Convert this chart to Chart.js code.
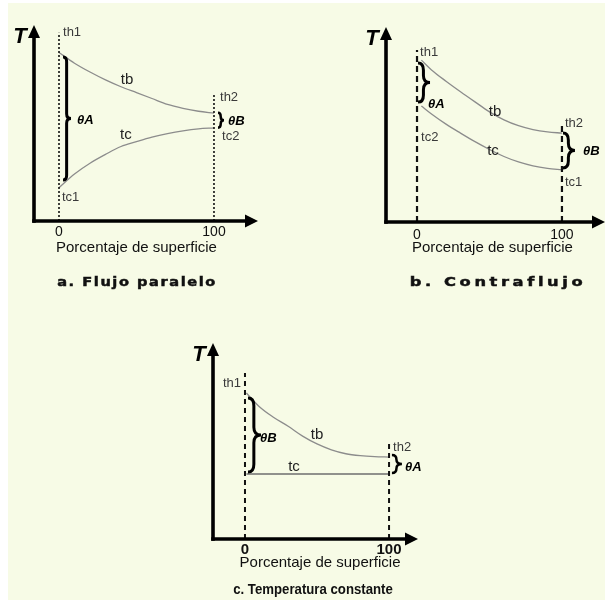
<!DOCTYPE html>
<html><head><meta charset="utf-8">
<script src="https://cdn.jsdelivr.net/npm/chart.js@4"></script>
<style>
html,body{margin:0;padding:0;background:#fff;}
#wrap{position:relative;width:605px;height:600px;overflow:hidden;background:#fff;}
#bg{position:absolute;left:8px;top:3px;right:0;bottom:0;background:#f7fbe6;}
canvas{position:absolute;}
.cap{position:absolute;white-space:nowrap;color:#111;line-height:16px;height:16px;}
</style></head>
<body>
<div id="wrap">
<div id="bg"></div>
<canvas id="ca" width="300" height="300" style="left:0;top:0"></canvas>
<canvas id="cb" width="305" height="300" style="left:300px;top:0"></canvas>
<canvas id="cc" width="300" height="270" style="left:150px;top:330px"></canvas>
<div class="cap" id="capA" style="left:137px;top:274px;font:bold 13px 'DejaVu Sans';letter-spacing:1.4px;-webkit-text-stroke:0.5px #111;transform:translateX(-50%) scaleX(1.12)"></div>
<div class="cap" id="capB" style="left:498px;top:274px;font:bold 13px 'DejaVu Sans';letter-spacing:2.9px;-webkit-text-stroke:0.5px #111;transform:translateX(-50%) scaleX(1.25)"></div>
<div class="cap" id="capC" style="left:313px;top:580px;font:bold 15px 'Liberation Sans';transform:translateX(-50%) scaleX(0.88)"></div>
</div>
<script>
// ---- data (percentage of surface vs temperature, arbitrary units 0..100) ----
const tickValues = [0, 100];
const tickLabels = ['0', '100'];
const axisTitle = 'Porcentaje de superficie';
const yAxisLabel = 'T';
const captions = ['a. Flujo paralelo', 'b. Contraflujo', 'c. Temperatura constante'];

// a. parallel flow
const pctParallel = [0, 10, 20, 30, 40, 50, 60, 70, 80, 90, 100];
const tbParallel  = [86, 80.5, 76, 72, 68.5, 65.5, 62.5, 59.5, 57.5, 56, 55];
const tcParallel  = [17, 24, 29.5, 34, 38, 40.5, 42.8, 44.6, 46, 47, 47.5];
const guideTopsParallel = [96, 64.3];

// b. counterflow
const pctCounter = [3, 10, 20, 30, 40, 50, 60, 70, 80, 90, 100];
const tbCounter  = [83, 78, 72.2, 66.8, 61.6, 56.5, 52.4, 49.4, 47.4, 46.2, 45.6];
const tcCounter  = [59.5, 55.4, 50.2, 45.6, 41.2, 37.2, 33.6, 30.8, 28.8, 27.5, 26.7];
const guideTopsCounter = [88.2, 51.3];

// c. constant temperature
const pctConst = [1, 10, 20, 30, 40, 50, 60, 70, 80, 90, 100];
const tbConst  = [74.5, 67.5, 62, 57.5, 52.5, 48.5, 45.5, 43.5, 42.5, 42, 41.8];
const pctConstTc = [1, 100];
const tcConst  = [33.2, 33.2];
const guideTopsConst = [84.7, 49.5];

document.getElementById('capA').textContent = captions[0];
document.getElementById('capB').textContent = captions[1];
document.getElementById('capC').textContent = captions[2];

const pts = (xs, ys) => xs.map((v, i) => ({x: v, y: ys[i]}));

function brace(ctx, x0, yTop, yBot, w, lw) {
  const xm = x0 + w * 0.45, xt = x0 + w, ym = (yTop + yBot) / 2;
  const r = Math.min(w * 0.6, (yBot - yTop) / 4);
  ctx.lineWidth = lw;
  ctx.beginPath();
  ctx.moveTo(x0, yTop);
  ctx.quadraticCurveTo(xm, yTop, xm, yTop + r);
  ctx.lineTo(xm, ym - r);
  ctx.quadraticCurveTo(xm, ym, xt, ym);
  ctx.quadraticCurveTo(xm, ym, xm, ym + r);
  ctx.lineTo(xm, yBot - r);
  ctx.quadraticCurveTo(xm, yBot, x0, yBot);
  ctx.stroke();
}

const diagramPlugin = {
  id: 'diagram',
  afterDatasetsDraw(chart, args, o) {
    const {ctx, chartArea: a} = chart;
    const xs = chart.scales.x, ys = chart.scales.y;
    ctx.save();
    ctx.strokeStyle = '#000'; ctx.fillStyle = '#000';
    // axes with arrows
    ctx.lineWidth = 3.6;
    ctx.beginPath(); ctx.moveTo(a.left, a.bottom + 1.8); ctx.lineTo(a.left, a.top + 10); ctx.stroke();
    ctx.beginPath(); ctx.moveTo(a.left - 1.8, a.bottom); ctx.lineTo(a.right - 10, a.bottom); ctx.stroke();
    ctx.beginPath(); ctx.moveTo(a.left, a.top); ctx.lineTo(a.left - 6, a.top + 13); ctx.lineTo(a.left + 6, a.top + 13); ctx.closePath(); ctx.fill();
    ctx.beginPath(); ctx.moveTo(a.right, a.bottom); ctx.lineTo(a.right - 13, a.bottom - 6.5); ctx.lineTo(a.right - 13, a.bottom + 6.5); ctx.closePath(); ctx.fill();
    // T label
    ctx.font = 'italic bold 22px "Liberation Sans"';
    ctx.textAlign = 'center'; ctx.textBaseline = 'alphabetic';
    ctx.fillStyle = '#000';
    ctx.fillText(yAxisLabel, a.left - 14, a.top + 18);
    // tick labels
    ctx.font = o.tickFont; ctx.fillStyle = '#111';
    ctx.textBaseline = 'middle';
    tickValues.forEach((v, i) => ctx.fillText(tickLabels[i], xs.getPixelForValue(v), a.bottom + o.tickGap));
    // axis title
    ctx.font = '15px "Liberation Sans"';
    ctx.fillText(axisTitle, xs.getPixelForValue(50) + o.titleShift, a.bottom + o.titleGap);
    // braces
    ctx.strokeStyle = '#000';
    o.braces.forEach(b => brace(ctx, xs.getPixelForValue(b.x), ys.getPixelForValue(b.y1), ys.getPixelForValue(b.y2), b.w, b.lw));
    // labels
    o.labels.forEach(l => {
      if (l.k === 'curve') { ctx.font = '15px "Liberation Sans"'; ctx.fillStyle = '#222'; ctx.textAlign = 'center'; }
      else if (l.k === 'theta') { ctx.font = 'italic bold 13px "Liberation Sans"'; ctx.fillStyle = '#000'; ctx.textAlign = 'left'; }
      else { ctx.font = o.smallFont; ctx.fillStyle = '#3a3a3a'; ctx.textAlign = 'left'; }
      ctx.fillText(l.t, xs.getPixelForValue(l.x), ys.getPixelForValue(l.y));
    });
    ctx.restore();
  }
};

function makeChart(id, cfg) {
  const curve = (xs, ys, color, w) => ({data: pts(xs, ys), borderColor: color, borderWidth: w, pointRadius: 0, cubicInterpolationMode: 'monotone', fill: false});
  const guide = (xv, top) => ({data: [{x: xv, y: 0}, {x: xv, y: top}], borderColor: '#111', borderWidth: cfg.dashW, borderDash: cfg.dash, pointRadius: 0, fill: false});
  return new Chart(document.getElementById(id), {
    type: 'line',
    data: {datasets: [
      guide(0, cfg.tops[0]), guide(100, cfg.tops[1]),
      ...cfg.curves.map(c => curve(c[0], c[1], c[2], c[3]))
    ]},
    options: {
      responsive: false, animation: false, events: [], devicePixelRatio: 1,
      layout: {padding: cfg.pad},
      scales: {
        x: {type: 'linear', min: cfg.xmin, max: cfg.xmax, display: false},
        y: {type: 'linear', min: 0, max: 100, display: false}
      },
      plugins: {legend: {display: false}, tooltip: {enabled: false}, diagram: cfg.diag}
    },
    plugins: [diagramPlugin]
  });
}

makeChart('ca', {
  pad: {left: 34, top: 25, right: 42, bottom: 79},
  xmin: -16.13, xmax: 128.4,
  dash: [2, 2], dashW: 1.6, tops: guideTopsParallel,
  curves: [[pctParallel, tbParallel, '#8c8c8c', 1.3], [pctParallel, tcParallel, '#8c8c8c', 1.3]],
  diag: {
    tickFont: '14px "Liberation Sans"', tickGap: 11, titleGap: 27, titleShift: 0,
    smallFont: '13px "Liberation Sans"',
    braces: [{x: 2.6, y1: 83.7, y2: 20.9, w: 8, lw: 3}, {x: 102.6, y1: 55.2, y2: 47.6, w: 6, lw: 2.5}],
    labels: [
      {t: 'th1', x: 2.6, y: 96.4}, {t: 'tb', x: 43.9, y: 71.9, k: 'curve'}, {t: 'tc', x: 43.2, y: 43.9, k: 'curve'},
      {t: 'tc1', x: 1.9, y: 12.2}, {t: 'th2', x: 103.9, y: 62.8}, {t: 'tc2', x: 105.2, y: 42.9},
      {t: 'θA', x: 11.6, y: 51.5, k: 'theta'}, {t: 'θB', x: 109, y: 51, k: 'theta'}
    ]
  }
});

makeChart('cb', {
  pad: {left: 86, top: 27, right: 0, bottom: 78},
  xmin: -21.4, xmax: 129.7,
  dash: [6, 4], dashW: 2.2, tops: guideTopsCounter,
  curves: [[pctCounter, tbCounter, '#8c8c8c', 1.3], [pctCounter, tcCounter, '#8c8c8c', 1.3]],
  diag: {
    tickFont: '14px "Liberation Sans"', tickGap: 13, titleGap: 26, titleShift: 3,
    smallFont: '13px "Liberation Sans"',
    braces: [{x: 0.7, y1: 81.5, y2: 61.5, w: 12, lw: 3}, {x: 100.7, y1: 45.6, y2: 27.7, w: 12, lw: 3}],
    labels: [
      {t: 'th1', x: 2.1, y: 87.2}, {t: 'tb', x: 53.8, y: 56.4, k: 'curve'}, {t: 'tc', x: 52.4, y: 36.4, k: 'curve'},
      {t: 'tc2', x: 2.8, y: 43.6}, {t: 'θA', x: 7.6, y: 60.5, k: 'theta'},
      {t: 'th2', x: 102.1, y: 50.8}, {t: 'tc1', x: 102.1, y: 20.5}, {t: 'θB', x: 114.5, y: 36.4, k: 'theta'}
    ]
  }
});

makeChart('cc', {
  pad: {left: 63, top: 13, right: 32, bottom: 61},
  xmin: -22.2, xmax: 120.1,
  dash: [5, 4], dashW: 2, tops: guideTopsConst,
  curves: [[pctConst, tbConst, '#8c8c8c', 1.3], [pctConstTc, tcConst, '#6e6e6e', 1.6]],
  diag: {
    tickFont: 'bold 15px "Liberation Sans"', tickGap: 11, titleGap: 24, titleShift: 3,
    smallFont: '13px "Liberation Sans"',
    braces: [{x: 2.1, y1: 71.9, y2: 34.2, w: 13, lw: 3}, {x: 102, y1: 42.9, y2: 33.7, w: 10, lw: 2.5}],
    labels: [
      {t: 'th1', x: -15.3, y: 79.6}, {t: 'tb', x: 50, y: 53.1, k: 'curve'}, {t: 'tc', x: 34, y: 36.7, k: 'curve'},
      {t: 'θB', x: 10.4, y: 51.5, k: 'theta'}, {t: 'th2', x: 102.8, y: 46.9}, {t: 'θA', x: 111, y: 36.7, k: 'theta'}
    ]
  }
});
</script>
</body></html>
